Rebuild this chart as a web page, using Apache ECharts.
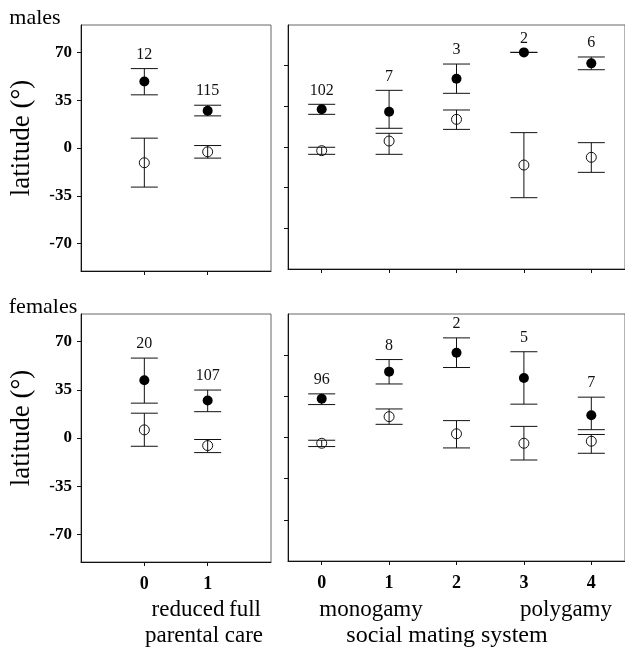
<!DOCTYPE html>
<html>
<head>
<meta charset="utf-8">
<script src="https://cdn.jsdelivr.net/npm/echarts@6/dist/echarts.min.js"></script>
<style>
  html, body { margin: 0; padding: 0; background: #fff; }
  #chart { width: 625px; height: 654px; }
</style>
</head>
<body>
<div id="chart"></div>
<script>
// categories
const careCats = [0, 1];
const mateCats = [0, 1, 2, 3, 4];
const leftTicks = [-70, -35, 0, 35, 70];
const rightTicks = [-60, -30, 0, 30, 60];

// males, parental care
const mCareFilled = [48.6, 27.2];
const mCareFilledLow = [38.9, 23.5];
const mCareFilledHigh = [58.1, 31.3];
const mCareOpen = [-10.8, -2.8];
const mCareOpenLow = [-28.6, -7.4];
const mCareOpenHigh = [7.2, 1.8];
const mCareN = [12, 115];

// males, social mating system
const mMateFilled = [27.8, 26.0, 50.4, 69.8, 61.7];
const mMateFilledLow = [24.1, 13.8, 39.6, 69.8, 57.0];
const mMateFilledHigh = [31.5, 41.8, 61.2, 69.8, 66.4];
const mMateOpen = [-2.7, 4.4, 20.4, -13.3, -7.6];
const mMateOpenLow = [-5.4, -5.4, 13.0, -37.4, -18.7];
const mMateOpenHigh = [-0.2, 10.1, 27.3, 10.6, 3.2];
const mMateN = [102, 7, 3, 2, 6];

// females, parental care
const fCareFilled = [41.9, 27.2];
const fCareFilledLow = [25.3, 19.1];
const fCareFilledHigh = [58.0, 34.8];
const fCareOpen = [5.9, -5.5];
const fCareOpenLow = [-6.0, -10.6];
const fCareOpenHigh = [18.0, -1.1];
const fCareN = [20, 107];

// females, social mating system
const fMateFilled = [28.2, 48.0, 61.8, 43.4, 16.2];
const fMateFilledLow = [24.0, 39.0, 51.0, 24.3, 5.7];
const fMateFilledHigh = [31.8, 56.8, 72.6, 62.5, 29.4];
const fMateOpen = [-4.2, 15.2, 2.7, -4.2, -2.7];
const fMateOpenLow = [-6.6, 9.6, -7.6, -16.4, -11.5];
const fMateOpenHigh = [-2.0, 20.8, 12.3, 8.1, 2.2];
const fMateN = [96, 8, 2, 5, 7];

const SERIF = 'Liberation Serif';
const INK = '#111';

const chart = echarts.init(document.getElementById('chart'));

// vertical bar with caps; optional sample size written above the top cap
function errorBars(cats, low, high, n, idx) {
  return {
    type: 'custom',
    xAxisIndex: idx,
    yAxisIndex: idx,
    silent: true,
    z: 1,
    data: cats.map((c, i) => [c, low[i], high[i], n ? n[i] : '']),
    renderItem: function (params, api) {
      const pLo = api.coord([api.value(0), api.value(1)]);
      const pHi = api.coord([api.value(0), api.value(2)]);
      const hw = 13.5;
      const style = { stroke: INK, lineWidth: 1 };
      const kids = [
        { type: 'line', shape: { x1: pLo[0], y1: pLo[1], x2: pHi[0], y2: pHi[1] }, style: style },
        { type: 'line', shape: { x1: pLo[0] - hw, y1: pLo[1], x2: pLo[0] + hw, y2: pLo[1] }, style: style },
        { type: 'line', shape: { x1: pHi[0] - hw, y1: pHi[1], x2: pHi[0] + hw, y2: pHi[1] }, style: style }
      ];
      const lbl = api.value(3);
      if (lbl !== '' && lbl != null) {
        kids.push({
          type: 'text',
          x: pHi[0],
          y: pHi[1] - 14,
          style: {
            text: String(lbl),
            fontFamily: SERIF,
            fontSize: 16,
            fill: INK,
            align: 'center',
            verticalAlign: 'middle'
          }
        });
      }
      return { type: 'group', children: kids };
    }
  };
}

function points(cats, vals, idx, filled) {
  return {
    type: 'scatter',
    xAxisIndex: idx,
    yAxisIndex: idx,
    symbol: 'circle',
    symbolSize: 10,
    z: 3,
    silent: true,
    data: cats.map((c, i) => [c, vals[i]]),
    itemStyle: filled
      ? { color: '#000', opacity: 1 }
      : { color: 'rgba(255,255,255,0)', borderColor: INK, borderWidth: 1, opacity: 1 }
  };
}

function panelSeries(cats, d, idx) {
  return [
    errorBars(cats, d.fl, d.fh, d.n, idx),
    errorBars(cats, d.ol, d.oh, null, idx),
    points(cats, d.f, idx, true),
    points(cats, d.o, idx, false)
  ];
}

const grids = [
  { left: 81, top: 25, width: 190, height: 246 },
  { left: 288, top: 25, width: 340, height: 244 },
  { left: 81, top: 314, width: 190, height: 248 },
  { left: 288, top: 314, width: 340, height: 247 }
].map(g => Object.assign({ show: true, borderColor: '#666', borderWidth: 1, backgroundColor: 'transparent' }, g));

function xAxis(idx, cats, min, max, showLabels) {
  return {
    type: 'value',
    gridIndex: idx,
    min: min,
    max: max,
    splitLine: { show: false },
    axisLine: { show: true, onZero: false, lineStyle: { color: INK, width: 1 } },
    axisTick: { show: true, length: 4, customValues: cats, lineStyle: { color: INK } },
    axisLabel: {
      show: showLabels,
      customValues: cats,
      margin: 13,
      fontFamily: SERIF,
      fontWeight: 'bold',
      fontSize: 18,
      color: '#000'
    }
  };
}

function yAxis(idx, ticks, showLabels) {
  return {
    type: 'value',
    gridIndex: idx,
    min: -90,
    max: 90,
    splitLine: { show: false },
    axisLine: { show: true, onZero: false, lineStyle: { color: INK, width: 1 } },
    axisTick: { show: true, length: 4, customValues: ticks, lineStyle: { color: INK } },
    axisLabel: {
      show: showLabels,
      customValues: ticks,
      margin: 9,
      fontFamily: SERIF,
      fontWeight: 'bold',
      fontSize: 17,
      color: '#000'
    }
  };
}

function text(str, x, y, size, rotate) {
  return {
    type: 'text',
    x: x,
    y: y,
    rotation: rotate ? Math.PI / 2 : 0,
    style: {
      text: str,
      fontFamily: SERIF,
      fontSize: size,
      fill: '#000',
      align: 'center',
      verticalAlign: 'middle'
    }
  };
}

const option = {
  animation: false,
  backgroundColor: '#fff',
  grid: grids,
  xAxis: [
    xAxis(0, careCats, -1, 2, false),
    xAxis(1, mateCats, -0.5, 4.5, false),
    xAxis(2, careCats, -1, 2, true),
    xAxis(3, mateCats, -0.5, 4.5, true)
  ],
  yAxis: [
    yAxis(0, leftTicks, true),
    yAxis(1, rightTicks, false),
    yAxis(2, leftTicks, true),
    yAxis(3, rightTicks, false)
  ],
  graphic: [
    text('males', 35, 18, 22, false),
    text('females', 43, 307, 22, false),
    text('latitude (°)', 22, 138, 27, true),
    text('latitude (°)', 22, 428, 27, true),
    text('reduced', 188, 610, 23, false),
    text('full', 245, 610, 23, false),
    text('monogamy', 371, 610, 23, false),
    text('polygamy', 566, 610, 23, false),
    text('parental care', 204, 636, 23, false),
    text('social mating system', 447, 636, 24, false)
  ],
  series: [].concat(
    panelSeries(careCats, { f: mCareFilled, fl: mCareFilledLow, fh: mCareFilledHigh, o: mCareOpen, ol: mCareOpenLow, oh: mCareOpenHigh, n: mCareN }, 0),
    panelSeries(mateCats, { f: mMateFilled, fl: mMateFilledLow, fh: mMateFilledHigh, o: mMateOpen, ol: mMateOpenLow, oh: mMateOpenHigh, n: mMateN }, 1),
    panelSeries(careCats, { f: fCareFilled, fl: fCareFilledLow, fh: fCareFilledHigh, o: fCareOpen, ol: fCareOpenLow, oh: fCareOpenHigh, n: fCareN }, 2),
    panelSeries(mateCats, { f: fMateFilled, fl: fMateFilledLow, fh: fMateFilledHigh, o: fMateOpen, ol: fMateOpenLow, oh: fMateOpenHigh, n: fMateN }, 3)
  )
};

chart.setOption(option);
</script>
</body>
</html>
